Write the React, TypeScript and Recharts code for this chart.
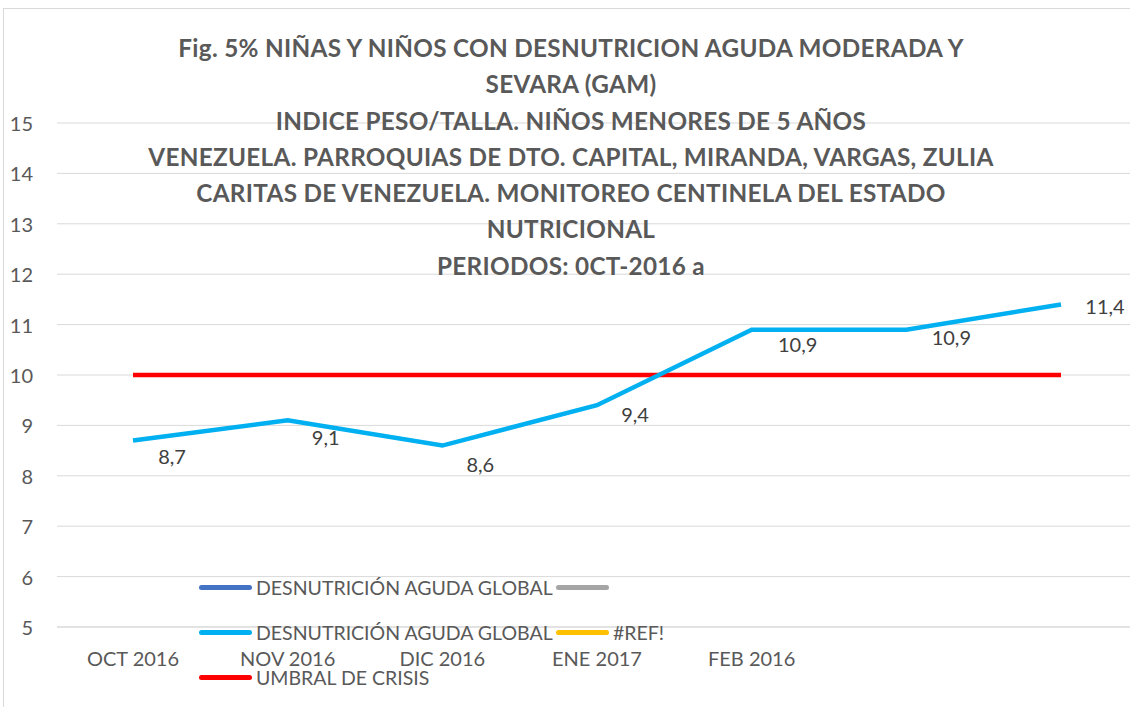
import { LineChart, Line, XAxis, YAxis, CartesianGrid, LabelList } from "recharts"

const periods = ["OCT 2016", "NOV 2016", "DIC 2016", "ENE 2017", "FEB 2016", "", ""]
const gam = [8.7, 9.1, 8.6, 9.4, 10.9, 10.9, 11.4]
const umbral = [10, 10, 10, 10, 10, 10, 10]
const yTicks = [5, 6, 7, 8, 9, 10, 11, 12, 13, 14, 15]

const titleLines = [
  "Fig. 5% NIÑAS Y NIÑOS CON DESNUTRICION AGUDA MODERADA Y",
  "SEVARA (GAM)",
  "INDICE PESO/TALLA. NIÑOS MENORES DE 5 AÑOS",
  "VENEZUELA. PARROQUIAS DE DTO. CAPITAL, MIRANDA, VARGAS, ZULIA",
  "CARITAS DE VENEZUELA. MONITOREO CENTINELA DEL ESTADO",
  "NUTRICIONAL",
  "PERIODOS: 0CT-2016 a",
]

const legendRows = [
  [
    { color: "#4472C4", label: "DESNUTRICIÓN AGUDA GLOBAL" },
    { color: "#A5A5A5", label: "" },
  ],
  [
    { color: "#00B0F0", label: "DESNUTRICIÓN AGUDA GLOBAL" },
    { color: "#FFC000", label: "#REF!" },
  ],
  [{ color: "#FF0000", label: "UMBRAL DE CRISIS" }],
]

// manual label placement (Excel moved these by hand)
const labelOffsets = [
  [39, 15], [38, 17], [38, 18], [38, 9], [46, 14], [45, 7], [44, 2],
]

const FONT = "Lato, 'Open Sans', sans-serif"
const GREY = "#595959"

const data = periods.map((p, i) => ({ period: p, gam: gam[i], umbral: umbral[i] }))

function YTick(props: any) {
  const { y, payload } = props
  return (
    <text x={33} y={y} textAnchor="end" dominantBaseline="central" fill={GREY} fontSize={20} fontFamily={FONT}>
      {payload.value}
    </text>
  )
}

function XTick(props: any) {
  const { x, y, payload } = props
  return (
    <text x={x} y={y + 23} textAnchor="middle" dominantBaseline="central" fill={GREY} fontSize={20} fontFamily={FONT}>
      {periods[payload.value] ?? ""}
    </text>
  )
}

function ValueLabel(props: any) {
  const { x, y, value, index } = props
  const [dx, dy] = labelOffsets[index] ?? [0, 0]
  return (
    <text x={x + dx} y={y + dy} textAnchor="middle" dominantBaseline="central" fill="#404040" fontSize={20} fontFamily={FONT}>
      {String(value).replace(".", ",")}
    </text>
  )
}

export default function App() {
  return (
    <div style={{ position: "absolute", left: 0, top: 0, width: 1130, height: 707, overflow: "hidden", background: "#fff", fontFamily: FONT }}>
      <div style={{ position: "absolute", left: 3, top: 8, width: 1140, height: 720, borderLeft: "1px solid #D9D9D9", borderTop: "1px solid #D9D9D9" }} />
      <LineChart width={1130} height={707} data={data} margin={{ top: 123, right: 0, left: 0, bottom: 50 }}>
        <CartesianGrid vertical={false} stroke="#D9D9D9" strokeWidth={1} />
        <XAxis
          type="category"
          height={30}
          scale="point"
          padding={{ left: 76, right: 69 }}
          axisLine={{ stroke: "#D9D9D9" }}
          tickLine={false}
          interval={0}
          tick={<XTick />}
        />
        <YAxis
          width={57}
          domain={[5, 15]}
          ticks={yTicks}
          interval={0}
          axisLine={false}
          tickLine={false}
          tick={<YTick />}
        />
        <Line
          dataKey="umbral"
          stroke="#FF0000"
          strokeWidth={4.5}
          dot={false}
          isAnimationActive={false}
        />
        <Line
          dataKey="gam"
          stroke="#00B0F0"
          strokeWidth={4.5}
          dot={false}
          isAnimationActive={false}
        >
          <LabelList dataKey="gam" content={<ValueLabel />} />
        </Line>
      </LineChart>
      <div style={{ position: "absolute", left: 0, width: 1142, top: 30, textAlign: "center", color: GREY, fontWeight: 700, fontSize: 24.3, letterSpacing: 0.3, lineHeight: "36.3px", pointerEvents: "none" }}>
        {titleLines.map((t, i) => (
          <div key={i}>{t}</div>
        ))}
      </div>
      <div style={{ position: "absolute", left: 199, top: 565, color: GREY, fontSize: 19.5 }}>
        {legendRows.map((row, r) => (
          <div key={r} style={{ display: "flex", alignItems: "center", height: 45 }}>
            {row.map((item, j) => (
              <div key={j} style={{ display: "flex", alignItems: "center", width: j === 0 ? 357 : "auto" }}>
                <div style={{ width: 53, height: 5, borderRadius: 3, background: item.color, marginRight: 4 }} />
                <span style={{ whiteSpace: "nowrap" }}>{item.label}</span>
              </div>
            ))}
          </div>
        ))}
      </div>
    </div>
  )
}
